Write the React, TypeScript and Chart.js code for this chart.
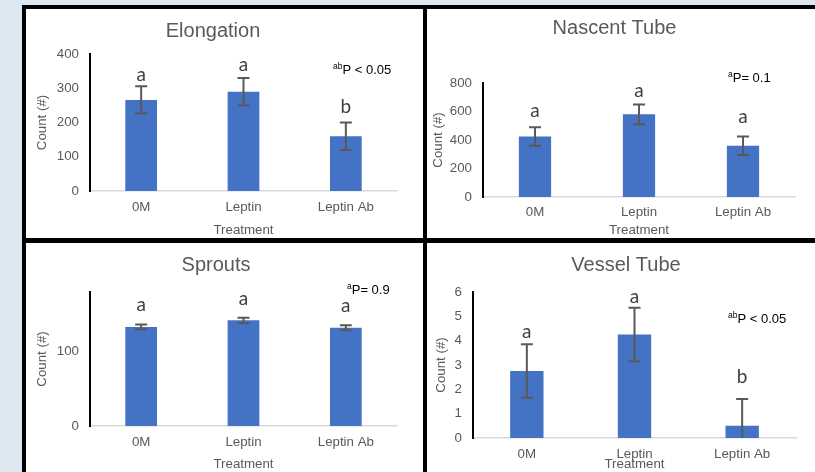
import React, { useEffect, useRef } from "react";
import { Chart, registerables } from "chart.js";

Chart.register(...registerables);

// ---------- data ----------
const categories = ["0M", "Leptin", "Leptin Ab"];

const elongationMeans = [266, 290, 160];
const elongationErrors = [40, 40, 40];
const elongationLetters = ["a", "a", "b"];
const elongationLetterY = [321, 350, 228];

const nascentMeans = [425, 580, 360];
const nascentErrors = [65, 70, 65];
const nascentLetters = ["a", "a", "a"];
const nascentLetterY = [561, 702, 519];

const sproutsMeans = [133, 142, 132];
const sproutsErrors = [3.5, 3.5, 3.5];
const sproutsLetters = ["a", "a", "a"];
const sproutsLetterY = [154, 163, 153];

const vesselMeans = [2.75, 4.25, 0.5];
const vesselErrors = [1.1, 1.1, 1.1];
const vesselLetters = ["a", "a", "b"];
const vesselLetterY = [4.11, 5.55, 2.26];

const yAxisTitle = "Count (#)";
const xAxisTitle = "Treatment";

// ---------- styles ----------
const FONT = '"Liberation Sans", Arial, sans-serif';
const GRAY = "#595959";
const BAR = "#4472c4";

type Panel = {
  title: string;
  means: number[];
  errors: number[];
  letters: string[];
  letterY: number[];
  sup: string;
  note: string;
  yMax: number;
  yStep: number;
  // layout
  left: number;
  top: number;
  width: number;
  height: number;
  plotLeft: number;
  plotRight: number;
  plotTop: number;
  plotBottom: number;
  titleX: number;
  titleY: number;
  noteX: number;
  noteY: number;
  yTitlePad: number;
  xTickPad: number;
};

const panels: Panel[] = [
  {
    title: "Elongation",
    means: elongationMeans,
    errors: elongationErrors,
    letters: elongationLetters,
    letterY: elongationLetterY,
    sup: "ab",
    note: "P < 0.05",
    yMax: 400,
    yStep: 100,
    left: 26, top: 9, width: 397, height: 229,
    plotLeft: 64, plotRight: 371, plotTop: 45, plotBottom: 182,
    titleX: 187, titleY: 27.5,
    noteX: 307, noteY: 65,
    yTitlePad: 8, xTickPad: 8,
  },
  {
    title: "Nascent Tube",
    means: nascentMeans,
    errors: nascentErrors,
    letters: nascentLetters,
    letterY: nascentLetterY,
    sup: "a",
    note: "P= 0.1",
    yMax: 800,
    yStep: 200,
    left: 427, top: 9, width: 388, height: 229,
    plotLeft: 56, plotRight: 368, plotTop: 74, plotBottom: 188,
    titleX: 187.5, titleY: 25,
    noteX: 301, noteY: 73,
    yTitlePad: 3, xTickPad: 7,
  },
  {
    title: "Sprouts",
    means: sproutsMeans,
    errors: sproutsErrors,
    letters: sproutsLetters,
    letterY: sproutsLetterY,
    sup: "a",
    note: "P= 0.9",
    yMax: 180,
    yStep: 100,
    left: 26, top: 243, width: 397, height: 229,
    plotLeft: 64, plotRight: 371, plotTop: 49, plotBottom: 183,
    titleX: 190, titleY: 28,
    noteX: 321, noteY: 51,
    yTitlePad: 8, xTickPad: 8,
  },
  {
    title: "Vessel Tube",
    means: vesselMeans,
    errors: vesselErrors,
    letters: vesselLetters,
    letterY: vesselLetterY,
    sup: "ab",
    note: "P < 0.05",
    yMax: 6,
    yStep: 1,
    left: 427, top: 243, width: 388, height: 229,
    plotLeft: 46, plotRight: 369, plotTop: 49, plotBottom: 195,
    titleX: 199, titleY: 28,
    noteX: 301, noteY: 80,
    yTitlePad: 6, xTickPad: 8,
  },
];

function makePlugin(p: Panel) {
  return {
    id: "annotations",
    afterDatasetsDraw(chart: any) {
      const ctx: CanvasRenderingContext2D = chart.ctx;
      const y = chart.scales.y;
      const meta = chart.getDatasetMeta(0);
      ctx.save();
      // error bars
      ctx.strokeStyle = GRAY;
      ctx.lineWidth = 2;
      p.means.forEach((m, i) => {
        const x = meta.data[i].x;
        const topV = m + p.errors[i];
        const botV = m - p.errors[i];
        const clipped = botV < y.min;
        const yt = y.getPixelForValue(topV);
        const yb = y.getPixelForValue(Math.max(botV, y.min));
        ctx.beginPath();
        ctx.moveTo(x, yt);
        ctx.lineTo(x, yb);
        ctx.moveTo(x - 6, yt);
        ctx.lineTo(x + 6, yt);
        if (!clipped) {
          ctx.moveTo(x - 6, yb);
          ctx.lineTo(x + 6, yb);
        }
        ctx.stroke();
      });
      // significance letters
      ctx.font = '19px Lato, "Noto Sans", sans-serif';
      ctx.fillStyle = "#404040";
      ctx.textAlign = "center";
      ctx.textBaseline = "alphabetic";
      p.letters.forEach((l, i) => {
        const x = meta.data[i].x;
        ctx.fillText(l, x, y.getPixelForValue(p.letterY[i]));
      });
      // title
      ctx.font = "20px " + FONT;
      ctx.fillStyle = GRAY;
      ctx.fillText(p.title, p.titleX, p.titleY);
      // p-value note
      ctx.textAlign = "left";
      ctx.fillStyle = "#000";
      ctx.font = "8.5px " + FONT;
      ctx.fillText(p.sup, p.noteX, p.noteY - 5);
      const w = ctx.measureText(p.sup).width;
      ctx.font = "13px " + FONT;
      ctx.fillText(p.note, p.noteX + w, p.noteY);
      ctx.restore();
    },
  };
}

function ChartPanel({ p }: { p: Panel }) {
  const ref = useRef<HTMLCanvasElement | null>(null);
  useEffect(() => {
    if (!ref.current) return;
    const tickFont = { family: FONT, size: 13.3 };
    const chart = new Chart(ref.current, {
      type: "bar",
      data: {
        labels: categories,
        datasets: [
          {
            data: p.means,
            backgroundColor: BAR,
            borderWidth: 0,
            barPercentage: 0.31,
            categoryPercentage: 1,
          },
        ],
      },
      options: {
        animation: false,
        responsive: false,
        devicePixelRatio: 1,
        layout: {
          padding: { left: 0, right: p.width - p.plotRight, top: p.plotTop, bottom: 0 },
        },
        plugins: {
          legend: { display: false },
          title: { display: false },
          tooltip: { enabled: false },
        },
        scales: {
          x: {
            grid: { display: false, drawTicks: false },
            border: { color: "#d9d9d9", width: 1.5 },
            ticks: { color: GRAY, font: tickFont, padding: p.xTickPad, maxRotation: 0 },
            title: {
              display: true,
              text: xAxisTitle,
              color: GRAY,
              font: tickFont,
              padding: { top: 0, bottom: 0 },
            },
            afterFit: (s: any) => {
              s.height = p.height - p.plotBottom;
            },
          },
          y: {
            min: 0,
            max: p.yMax,
            grid: { display: false, drawTicks: false },
            border: { color: "#000000", width: 2 },
            ticks: {
              stepSize: p.yStep,
              includeBounds: false,
              color: GRAY,
              font: tickFont,
              padding: 11,
            },
            title: {
              display: true,
              text: yAxisTitle,
              color: GRAY,
              font: tickFont,
              padding: { top: p.yTitlePad, bottom: 0 },
            },
            afterFit: (s: any) => {
              s.width = p.plotLeft;
            },
          },
        },
      } as any,
      plugins: [makePlugin(p)],
    });
    return () => chart.destroy();
  }, [p]);
  return (
    <div
      style={{
        position: "absolute",
        left: p.left,
        top: p.top,
        width: p.width,
        height: p.height,
        background: "#ffffff",
      }}
    >
      <canvas
        ref={ref}
        width={p.width}
        height={p.height}
        style={{ display: "block", width: p.width, height: p.height }}
      />
    </div>
  );
}

export default function App() {
  return (
    <div
      style={{
        position: "fixed",
        left: 0,
        top: 0,
        width: 815,
        height: 472,
        background: "#dde8f3",
        overflow: "hidden",
      }}
    >
      <div
        style={{
          position: "absolute",
          left: 22,
          top: 5,
          width: 793,
          height: 467,
          background: "#000000",
        }}
      />
      {panels.map((p) => (
        <ChartPanel key={p.title} p={p} />
      ))}
    </div>
  );
}
